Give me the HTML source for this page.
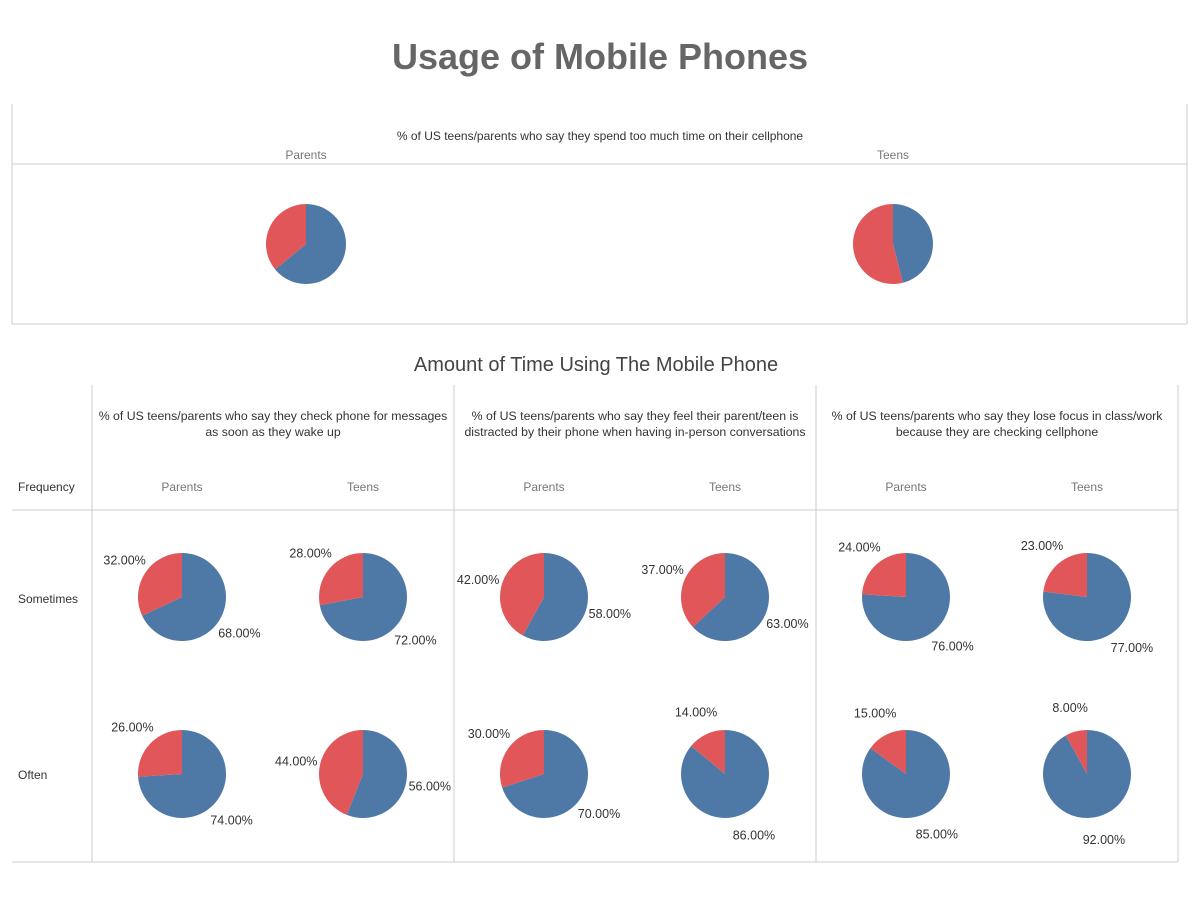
<!DOCTYPE html>
<html><head><meta charset="utf-8"><style>
body{margin:0;background:#fff;}
svg text{font-family:"Liberation Sans",sans-serif;}
</style></head><body>
<svg width="1200" height="900" viewBox="0 0 1200 900" id="root">
<text x="600" y="69" text-anchor="middle" font-size="36" font-weight="bold" fill="#666">Usage of Mobile Phones</text>
<g stroke="#ccc" fill="none">
<line x1="12" y1="104" x2="12" y2="324"/><line x1="1187" y1="104" x2="1187" y2="324"/>
<line x1="12" y1="324" x2="1187" y2="324"/><line x1="12" y1="164" x2="1187" y2="164"/>
</g>
<text x="600" y="140" text-anchor="middle" font-size="12" fill="#333">% of US teens/parents who say they spend too much time on their cellphone</text>
<text x="306" y="159" text-anchor="middle" font-size="12" fill="#777">Parents</text>
<text x="893" y="159" text-anchor="middle" font-size="12" fill="#777">Teens</text>
<text x="596" y="371" text-anchor="middle" font-size="20" fill="#444">Amount of Time Using The Mobile Phone</text>
<g stroke="#ccc">
<line x1="92" y1="385" x2="92" y2="862"/><line x1="454" y1="385" x2="454" y2="862"/>
<line x1="816" y1="385" x2="816" y2="862"/><line x1="1178" y1="385" x2="1178" y2="862"/>
<line x1="12" y1="510" x2="1178" y2="510"/><line x1="12" y1="862" x2="1178" y2="862"/>
</g>
<g font-size="12.3" fill="#333" text-anchor="middle">
<text x="273" y="420">% of US teens/parents who say they check phone for messages</text>
<text x="273" y="436">as soon as they wake up</text>
<text x="635" y="420">% of US teens/parents who say they feel their parent/teen is</text>
<text x="635" y="436">distracted by their phone when having in-person conversations</text>
<text x="997" y="420">% of US teens/parents who say they lose focus in class/work</text>
<text x="997" y="436">because they are checking cellphone</text>
</g>
<text x="18" y="491" font-size="12" fill="#333">Frequency</text>
<text x="18" y="603" font-size="12" fill="#333">Sometimes</text>
<text x="18" y="779" font-size="12" fill="#333">Often</text>
<g id="pies"></g>
</svg>
<script>
const groups = ["Parents","Teens","Parents","Teens","Parents","Teens"];
const sometimesBlue = [68,72,58,63,76,77];
const oftenBlue = [74,56,70,86,85,92];
const topBlue = [64,46];
const colX = [182,363,544,725,906,1087];
const NS="http://www.w3.org/2000/svg";
const root=document.getElementById('pies');
function mk(t,a){const e=document.createElementNS(NS,t);for(const k in a)e.setAttribute(k,a[k]);return e;}
function pt(cx,cy,r,frac){const a=frac*2*Math.PI;return [cx+r*Math.sin(a),cy-r*Math.cos(a)];}
function slice(cx,cy,r,f0,f1,color){
  const p0=pt(cx,cy,r,f0),p1=pt(cx,cy,r,f1);const large=(f1-f0)>0.5?1:0;
  return mk('path',{d:`M${cx},${cy}L${p0[0]},${p0[1]}A${r},${r} 0 ${large} 1 ${p1[0]},${p1[1]}Z`,fill:color});
}
function pie(cx,cy,r,blue,labels,name){
  const g=mk('g',{});
  
  
  const b=blue/100;
  const s1=slice(cx,cy,r,0,b,'#4e79a7');
  
  
  const s2=slice(cx,cy,r,b,1,'#e15759');
  
  
  g.appendChild(s1);g.appendChild(s2);
  if(labels){
    [[b/2,blue],[(b+1)/2,100-blue]].forEach(([m,v])=>{
      const p=pt(cx,cy,r+24,m);
      const t=mk('text',{x:p[0],y:p[1]+4,'text-anchor':'middle','font-size':'12.5',fill:'#333'});
      t.textContent=v.toFixed(2)+'%';
      
      
      g.appendChild(t);
    });
  }
  root.appendChild(g);
}
topBlue.forEach((v,i)=>pie(i?893:306,244,40,v,false,'top-pie-'+groups[i].toLowerCase()));
groups.forEach((gname,i)=>{
  const h=mk('text',{x:colX[i],y:491,'text-anchor':'middle','font-size':'12','fill':'#777'});
  h.textContent=gname;
  
  
  root.appendChild(h);
  pie(colX[i],597,44,sometimesBlue[i],true,'pie-sometimes-'+i);
  pie(colX[i],774,44,oftenBlue[i],true,'pie-often-'+i);
});
</script>
</body></html>
